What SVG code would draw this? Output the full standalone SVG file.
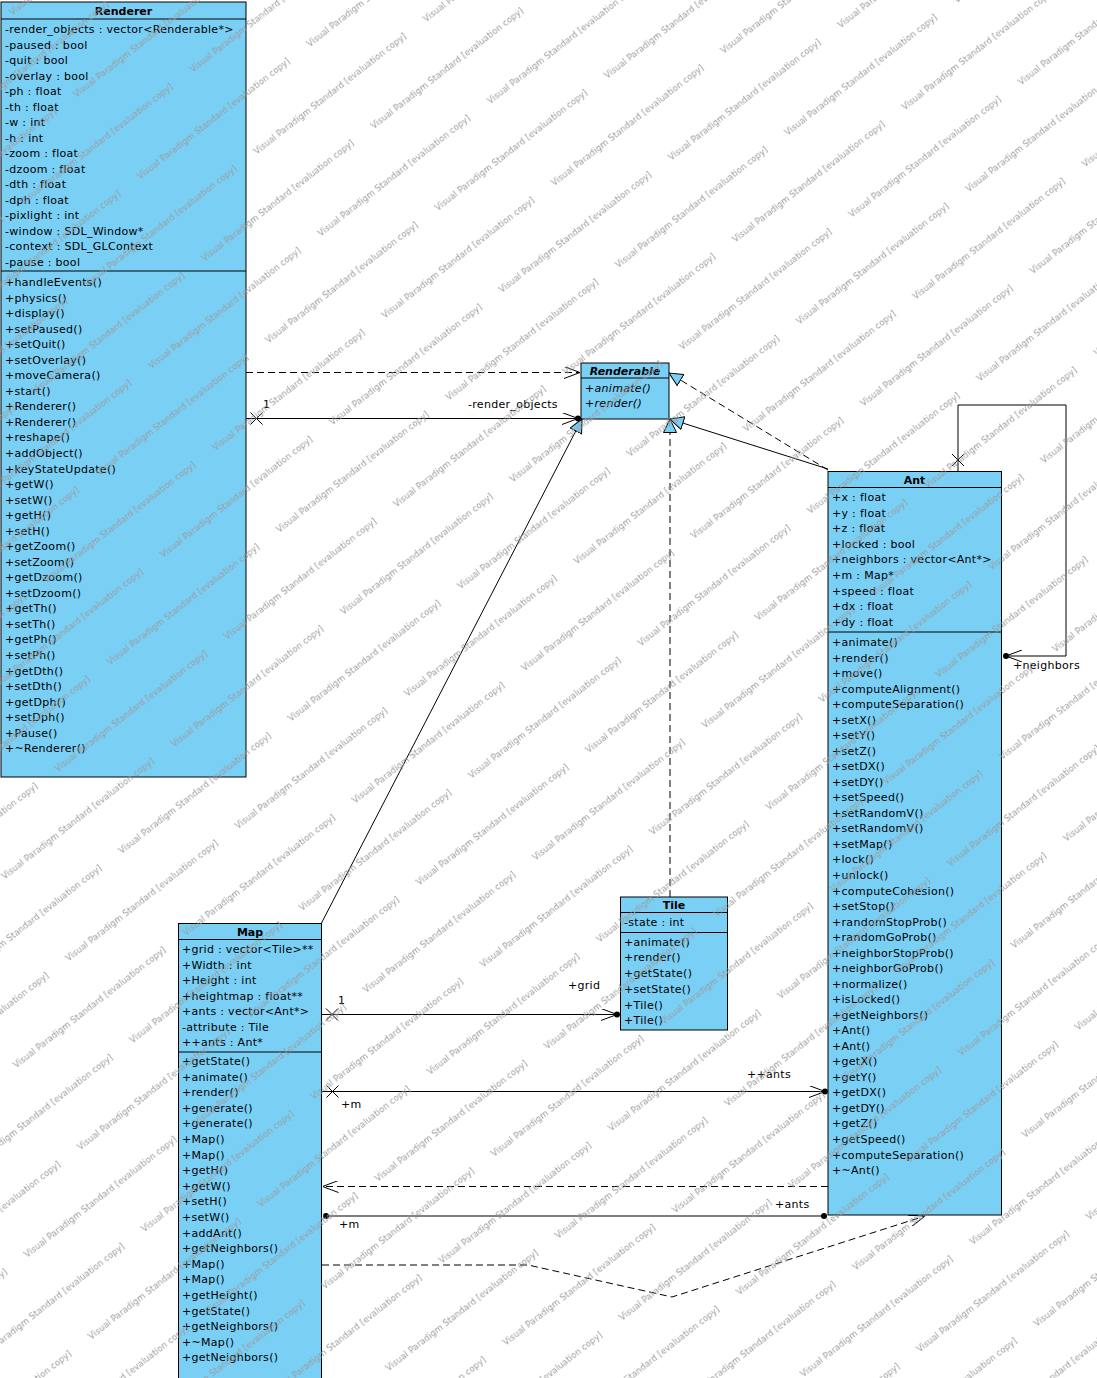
<svg xmlns="http://www.w3.org/2000/svg" xmlns:xlink="http://www.w3.org/1999/xlink" width="1097" height="1378" viewBox="0 0 1097 1378">
<style>
.box{fill:#7acff5;stroke:#000;stroke-width:1}
.sep{stroke:#000;stroke-width:1}
text{font-family:"DejaVu Sans","Liberation Sans",sans-serif;font-size:11px;fill:#000;letter-spacing:0.3px}
.hd{font-weight:bold;text-anchor:middle;letter-spacing:0}
.it{font-style:italic}
.ln{fill:none;stroke:#000;stroke-width:1}
.dash{stroke-dasharray:7 4}
.dot{fill:#000}
.lbl{font-size:11px}
.wm{font-size:8.5px;fill:#9a9a9a;letter-spacing:0.1px}
</style>
<defs>
<marker id="open" viewBox="0 0 16 12" refX="16" refY="6" markerWidth="16" markerHeight="12" markerUnits="userSpaceOnUse" orient="auto">
<path d="M0,0 L16,6 L0,12" fill="none" stroke="#000" stroke-width="1"/>
</marker>
<marker id="tri" viewBox="0 0 14 14" refX="14" refY="7" markerWidth="14" markerHeight="14" markerUnits="userSpaceOnUse" orient="auto">
<path d="M0.5,0.5 L14,7 L0.5,13.5 Z" fill="#7acff5" stroke="#000" stroke-width="1"/>
</marker>
<path id="xm" d="M-6,-6 L6,6 M-6,6 L6,-6" fill="none" stroke="#000" stroke-width="1"/>
<pattern id="wm" patternUnits="userSpaceOnUse" width="215" height="104" patternTransform="rotate(-38)">
<text class="wm" x="0" y="20">Visual Paradigm Standard [evaluation copy]</text>
<text class="wm" x="107" y="72">Visual Paradigm Standard [evaluation copy]</text>
<text class="wm" x="-108" y="72">Visual Paradigm Standard [evaluation copy]</text>
</pattern>
</defs>
<rect width="1097" height="1378" fill="#fff"/>

<g id="connectors">
<path class="ln dash" d="M246,372.5 H580" marker-end="url(#open)"/>
<path class="ln" d="M246,418.5 H578" marker-end="url(#open)"/>
<use xlink:href="#xm" x="256.5" y="418.5"/>
<circle class="dot" cx="578" cy="418.5" r="3"/>
<text class="lbl" x="263" y="408">1</text>
<text class="lbl" x="468" y="408">-render_objects</text>
<path class="ln" d="M321,924 L582,419" marker-end="url(#tri)"/>
<path class="ln dash" d="M670,897 V419" marker-end="url(#tri)"/>
<path class="ln" d="M828,469 L670,419" marker-end="url(#tri)"/>
<path class="ln dash" d="M828,470 L669,373" marker-end="url(#tri)"/>
<path class="ln" d="M958,471 V405 H1066 V656 H1006" marker-end="url(#open)"/>
<use xlink:href="#xm" x="958" y="460"/>
<circle class="dot" cx="1006" cy="656" r="3"/>
<text class="lbl" x="1013" y="669">+neighbors</text>
<path class="ln" d="M321,1014.5 H617" marker-end="url(#open)"/>
<use xlink:href="#xm" x="332" y="1014.5"/>
<circle class="dot" cx="617" cy="1014.5" r="3"/>
<text class="lbl" x="338" y="1004">1</text>
<text class="lbl" x="568" y="989">+grid</text>
<path class="ln" d="M321,1091.5 H825" marker-end="url(#open)"/>
<use xlink:href="#xm" x="332.5" y="1091.5"/>
<circle class="dot" cx="825" cy="1091.5" r="3"/>
<text class="lbl" x="341" y="1108">+m</text>
<text class="lbl" x="747" y="1078">++ants</text>
<path class="ln dash" d="M828,1186.5 H322.5" marker-end="url(#open)"/>
<path class="ln" d="M326,1216 H824"/>
<circle class="dot" cx="326" cy="1216" r="3"/>
<circle class="dot" cx="824" cy="1216" r="3"/>
<text class="lbl" x="339" y="1228">+m</text>
<text class="lbl" x="775" y="1208">+ants</text>
<path class="ln dash" d="M322,1265 H528 L672,1297 L925,1216" marker-end="url(#open)"/>
</g>

<g id="Renderer">
<rect class="box" x="1" y="2" width="245" height="775"/>
<text class="hd" x="123.5" y="15">Renderer</text>
<line class="sep" x1="1" y1="19" x2="246" y2="19"/>
<text>
<tspan x="5" y="33">-render_objects : vector&lt;Renderable*&gt;</tspan>
<tspan x="5" y="48.5">-paused : bool</tspan>
<tspan x="5" y="64">-quit : bool</tspan>
<tspan x="5" y="79.5">-overlay : bool</tspan>
<tspan x="5" y="95">-ph : float</tspan>
<tspan x="5" y="110.5">-th : float</tspan>
<tspan x="5" y="126">-w : int</tspan>
<tspan x="5" y="141.5">-h : int</tspan>
<tspan x="5" y="157">-zoom : float</tspan>
<tspan x="5" y="172.5">-dzoom : float</tspan>
<tspan x="5" y="188">-dth : float</tspan>
<tspan x="5" y="203.5">-dph : float</tspan>
<tspan x="5" y="219">-pixlight : int</tspan>
<tspan x="5" y="234.5">-window : SDL_Window*</tspan>
<tspan x="5" y="250">-context : SDL_GLContext</tspan>
<tspan x="5" y="265.5">-pause : bool</tspan>
</text>
<line class="sep" x1="1" y1="271" x2="246" y2="271"/>
<text>
<tspan x="5" y="286">+handleEvents()</tspan>
<tspan x="5" y="301.5">+physics()</tspan>
<tspan x="5" y="317.1">+display()</tspan>
<tspan x="5" y="332.6">+setPaused()</tspan>
<tspan x="5" y="348.2">+setQuit()</tspan>
<tspan x="5" y="363.7">+setOverlay()</tspan>
<tspan x="5" y="379.2">+moveCamera()</tspan>
<tspan x="5" y="394.8">+start()</tspan>
<tspan x="5" y="410.3">+Renderer()</tspan>
<tspan x="5" y="425.9">+Renderer()</tspan>
<tspan x="5" y="441.4">+reshape()</tspan>
<tspan x="5" y="456.9">+addObject()</tspan>
<tspan x="5" y="472.5">+keyStateUpdate()</tspan>
<tspan x="5" y="488">+getW()</tspan>
<tspan x="5" y="503.6">+setW()</tspan>
<tspan x="5" y="519.1">+getH()</tspan>
<tspan x="5" y="534.6">+setH()</tspan>
<tspan x="5" y="550.2">+getZoom()</tspan>
<tspan x="5" y="565.7">+setZoom()</tspan>
<tspan x="5" y="581.3">+getDzoom()</tspan>
<tspan x="5" y="596.8">+setDzoom()</tspan>
<tspan x="5" y="612.3">+getTh()</tspan>
<tspan x="5" y="627.9">+setTh()</tspan>
<tspan x="5" y="643.4">+getPh()</tspan>
<tspan x="5" y="659">+setPh()</tspan>
<tspan x="5" y="674.5">+getDth()</tspan>
<tspan x="5" y="690">+setDth()</tspan>
<tspan x="5" y="705.6">+getDph()</tspan>
<tspan x="5" y="721.1">+setDph()</tspan>
<tspan x="5" y="736.7">+Pause()</tspan>
<tspan x="5" y="752.2">+~Renderer()</tspan>
</text>
</g>

<g id="Renderable">
<rect class="box" x="581" y="363" width="88" height="56"/>
<text class="hd it" x="625" y="375">Renderable</text>
<line class="sep" x1="581" y1="378" x2="669" y2="378"/>
<text class="it">
<tspan x="585" y="392">+animate()</tspan>
<tspan x="585" y="407">+render()</tspan>
</text>
</g>

<g id="Ant">
<rect class="box" x="828" y="471.5" width="173.5" height="743.5"/>
<text class="hd" x="914.5" y="484">Ant</text>
<line class="sep" x1="828" y1="487.5" x2="1001.5" y2="487.5"/>
<text>
<tspan x="832" y="501">+x : float</tspan>
<tspan x="832" y="516.6">+y : float</tspan>
<tspan x="832" y="532.2">+z : float</tspan>
<tspan x="832" y="547.8">+locked : bool</tspan>
<tspan x="832" y="563.4">+neighbors : vector&lt;Ant*&gt;</tspan>
<tspan x="832" y="579">+m : Map*</tspan>
<tspan x="832" y="594.6">+speed : float</tspan>
<tspan x="832" y="610.2">+dx : float</tspan>
<tspan x="832" y="625.8">+dy : float</tspan>
</text>
<line class="sep" x1="828" y1="632" x2="1001.5" y2="632"/>
<text>
<tspan x="832" y="646">+animate()</tspan>
<tspan x="832" y="661.5">+render()</tspan>
<tspan x="832" y="677.1">+move()</tspan>
<tspan x="832" y="692.6">+computeAlignment()</tspan>
<tspan x="832" y="708.1">+computeSeparation()</tspan>
<tspan x="832" y="723.7">+setX()</tspan>
<tspan x="832" y="739.2">+setY()</tspan>
<tspan x="832" y="754.7">+setZ()</tspan>
<tspan x="832" y="770.2">+setDX()</tspan>
<tspan x="832" y="785.8">+setDY()</tspan>
<tspan x="832" y="801.3">+setSpeed()</tspan>
<tspan x="832" y="816.8">+setRandomV()</tspan>
<tspan x="832" y="832.4">+setRandomV()</tspan>
<tspan x="832" y="847.9">+setMap()</tspan>
<tspan x="832" y="863.4">+lock()</tspan>
<tspan x="832" y="879">+unlock()</tspan>
<tspan x="832" y="894.5">+computeCohesion()</tspan>
<tspan x="832" y="910">+setStop()</tspan>
<tspan x="832" y="925.5">+randomStopProb()</tspan>
<tspan x="832" y="941.1">+randomGoProb()</tspan>
<tspan x="832" y="956.6">+neighborStopProb()</tspan>
<tspan x="832" y="972.1">+neighborGoProb()</tspan>
<tspan x="832" y="987.7">+normalize()</tspan>
<tspan x="832" y="1003.2">+isLocked()</tspan>
<tspan x="832" y="1018.7">+getNeighbors()</tspan>
<tspan x="832" y="1034.3">+Ant()</tspan>
<tspan x="832" y="1049.8">+Ant()</tspan>
<tspan x="832" y="1065.3">+getX()</tspan>
<tspan x="832" y="1080.8">+getY()</tspan>
<tspan x="832" y="1096.4">+getDX()</tspan>
<tspan x="832" y="1111.9">+getDY()</tspan>
<tspan x="832" y="1127.4">+getZ()</tspan>
<tspan x="832" y="1143">+getSpeed()</tspan>
<tspan x="832" y="1158.5">+computeSeparation()</tspan>
<tspan x="832" y="1174">+~Ant()</tspan>
</text>
</g>

<g id="Tile">
<rect class="box" x="620.5" y="897" width="107" height="133"/>
<text class="hd" x="674" y="908.5">Tile</text>
<line class="sep" x1="620.5" y1="912.5" x2="727.5" y2="912.5"/>
<text><tspan x="624" y="926">-state : int</tspan></text>
<line class="sep" x1="620.5" y1="932.5" x2="727.5" y2="932.5"/>
<text>
<tspan x="624" y="945.7">+animate()</tspan>
<tspan x="624" y="961.4">+render()</tspan>
<tspan x="624" y="977.1">+getState()</tspan>
<tspan x="624" y="992.8">+setState()</tspan>
<tspan x="624" y="1008.5">+Tile()</tspan>
<tspan x="624" y="1024.2">+Tile()</tspan>
</text>
</g>

<g id="Map">
<rect class="box" x="178.5" y="923.5" width="143" height="470"/>
<text class="hd" x="250" y="935.5">Map</text>
<line class="sep" x1="178.5" y1="939.5" x2="321.5" y2="939.5"/>
<text>
<tspan x="182" y="953.3">+grid : vector&lt;Tile&gt;**</tspan>
<tspan x="182" y="968.8">+Width : int</tspan>
<tspan x="182" y="984.2">+Height : int</tspan>
<tspan x="182" y="999.7">+heightmap : float**</tspan>
<tspan x="182" y="1015.1">+ants : vector&lt;Ant*&gt;</tspan>
<tspan x="182" y="1030.6">-attribute : Tile</tspan>
<tspan x="182" y="1046">++ants : Ant*</tspan>
</text>
<line class="sep" x1="178.5" y1="1052" x2="321.5" y2="1052"/>
<text>
<tspan x="182" y="1065">+getState()</tspan>
<tspan x="182" y="1080.6">+animate()</tspan>
<tspan x="182" y="1096.2">+render()</tspan>
<tspan x="182" y="1111.8">+generate()</tspan>
<tspan x="182" y="1127.4">+generate()</tspan>
<tspan x="182" y="1143">+Map()</tspan>
<tspan x="182" y="1158.6">+Map()</tspan>
<tspan x="182" y="1174.2">+getH()</tspan>
<tspan x="182" y="1189.8">+getW()</tspan>
<tspan x="182" y="1205.4">+setH()</tspan>
<tspan x="182" y="1221">+setW()</tspan>
<tspan x="182" y="1236.6">+addAnt()</tspan>
<tspan x="182" y="1252.2">+getNeighbors()</tspan>
<tspan x="182" y="1267.8">+Map()</tspan>
<tspan x="182" y="1283.4">+Map()</tspan>
<tspan x="182" y="1299">+getHeight()</tspan>
<tspan x="182" y="1314.6">+getState()</tspan>
<tspan x="182" y="1330.2">+getNeighbors()</tspan>
<tspan x="182" y="1345.8">+~Map()</tspan>
<tspan x="182" y="1361.4">+getNeighbors()</tspan>
</text>
</g>

<rect id="watermark" width="1097" height="1378" fill="url(#wm)" pointer-events="none"/>
</svg>
